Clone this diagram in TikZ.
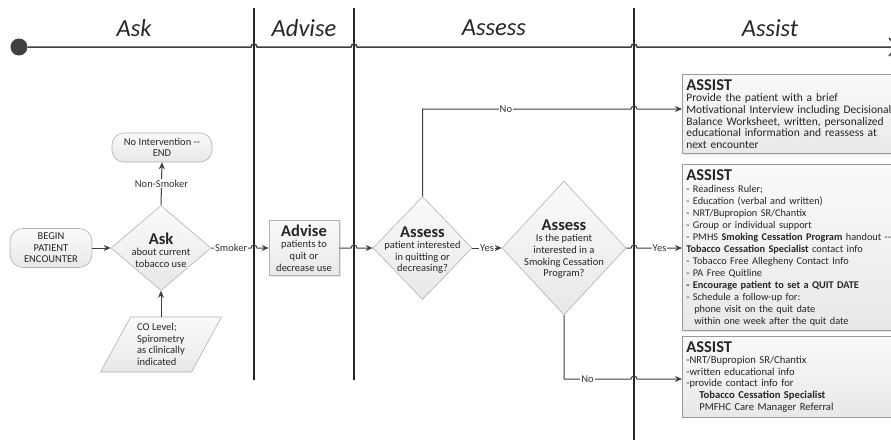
\documentclass[tikz,border=0pt]{standalone}
\usepackage{fontspec}
\setmainfont{Carlito}
\usetikzlibrary{shapes.geometric,arrows.meta,shadows}

\newcommand\hdfont{\fontsize{16.5}{18}\selectfont\bfseries}

\begin{document}
\begin{tikzpicture}[x=1pt,y=-1pt,
  lane/.style={line width=1.8pt, black!85},
  link/.style={line width=1pt, black!75},
  flow/.style={link, -{Stealth[length=7pt,width=6pt]}},
  lbl/.style={fill=white, inner sep=1pt, font=\fontsize{10.5}{12}\selectfont, text=black!80},
  txt/.style={align=center, inner sep=0pt, font=\fontsize{10.5}{11.6}\selectfont, text=black!85},
  shade/.style={draw=black!30, line width=0.6pt, top color=black!2, bottom color=black!9},
  decision/.style={shade, diamond, inner sep=0pt},
  terminal/.style={shade, rounded corners=13pt, txt},
  hdr/.style={font=\fontsize{24.5}{26}\selectfont\itshape, text=black!85},
  assistbox/.style={shade, draw=black!40, drop shadow={opacity=0.2, shadow xshift=1.5pt, shadow yshift=-1.5pt},
    anchor=north west, align=left, text width=215pt, inner xsep=4pt, inner ysep=5pt, text=black!85,
    font=\fontsize{10.3}{12}\selectfont}
]
\path[use as bounding box, clip] (0,0) rectangle (891,439);
\fill[white] (0,0) rectangle (891,439);

\coordinate (lane1) at (254,8);
\coordinate (lane2) at (354,8);
\coordinate (lane3) at (634,8);
\coordinate (noA) at (0,109);
\coordinate (noB) at (0,379);

\draw[lane] (lane1) -- (254,380);
\draw[lane] (lane2) -- (354,380);
\draw[lane] (lane3) -- (634,445);

\node[hdr] (askhdr) at (134,28) {Ask};
\node[hdr] (advisehdr) at (304,28) {Advise};
\node[hdr] (assesshdr) at (494,28) {Assess};
\node[hdr] (assisthdr) at (770,28) {Assist};

\node[circle, fill=black!75, minimum size=17pt, inner sep=0pt] (start) at (19,47) {};
\coordinate (finish) at (897,47);
\draw[link, line width=1.5pt, -{Straight Barb[length=7pt,width=18pt]}] (start)
  -- ([xshift=-3pt]start -| lane1) arc[start angle=180, end angle=0, radius=3pt]
  -- ([xshift=-3pt]start -| lane2) arc[start angle=180, end angle=0, radius=3pt]
  -- ([xshift=-3pt]start -| lane3) arc[start angle=180, end angle=0, radius=3pt]
  -- (finish);

\node[terminal, minimum width=82pt, minimum height=39pt] (begin) at (51,248) {BEGIN\\PATIENT\\ENCOUNTER};
\node[terminal, minimum width=100pt, minimum height=29pt, rounded corners=12pt] (noint) at (162,147.5) {No Intervention -{}-\\END};

\node[decision, minimum width=100pt, minimum height=85pt] (ask) at (161,248) {};
\node[txt] (asktext) at (161,250) {{\hdfont Ask}\\about current\\tobacco use};

\node[shade, txt, align=left, trapezium, trapezium left angle=61, trapezium right angle=119, trapezium stretches=true,
  minimum width=122pt, minimum height=55pt] (co) at (161,344.5) {CO Level;\\Spirometry\\as clinically\\indicated};

\node[shade, drop shadow={opacity=0.2, shadow xshift=1.5pt, shadow yshift=-1.5pt},
  minimum width=70pt, minimum height=55pt, txt] (advise) at (304,248) {{\hdfont Advise}\\patients to\\quit or\\decrease use};

\node[decision, minimum width=99pt, minimum height=103pt] (assess) at (422.5,248) {};
\node[txt] (assesstext) at (422.5,250) {{\hdfont Assess}\\patient interested\\in quitting or\\decreasing?};

\node[decision, minimum width=124pt, minimum height=134pt] (program) at (564,248) {};
\node[txt] (programtext) at (564,249) {{\hdfont Assess}\\Is the patient\\interested in a\\Smoking Cessation\\Program?};

\node[assistbox, font=\fontsize{11.5}{11.7}\selectfont] (info) at (682,74) {{\hdfont ASSIST}\\
Provide the patient with a brief\\
Motivational Interview including Decisional\\
Balance Worksheet, written, personalized\\
educational information and reassess at\\
next encounter};

\node[assistbox] (plan) at (682,164) {{\hdfont ASSIST}\\
- Readiness Ruler;\\
- Education (verbal and written)\\
- NRT/Bupropion SR/Chantix\\
- Group or individual support\\
- PMHS \textbf{Smoking Cessation Program} handout -{}-\\
\textbf{Tobacco Cessation Specialist} contact info\\
- Tobacco Free Allegheny Contact Info\\
- PA Free Quitline\\
\textbf{- Encourage patient to set a QUIT DATE}\\
- Schedule a follow-up for:\\
\hspace*{8pt}phone visit on the quit date\\
\hspace*{8pt}within one week after the quit date};

\node[assistbox, font=\fontsize{10.6}{11.6}\selectfont] (refer) at (682,336) {{\hdfont ASSIST}\\
-NRT/Bupropion SR/Chantix\\
-written educational info\\
-provide contact info for\\
\hspace*{13pt}\textbf{Tobacco Cessation Specialist}\\
\hspace*{13pt}PMFHC Care Manager Referral};

\draw[flow] (begin.east) -- (ask.west);
\draw[flow] (ask.north) -- node[lbl] {Non-Smoker} (noint.south);
\draw[flow] (co.north -| ask.south) -- (ask.south);
\draw[flow] (ask.east) -- node[lbl] {Smoker} ([xshift=-3pt]ask.east -| lane1)
  arc[start angle=180, end angle=0, radius=3pt] -- (advise.west);
\draw[flow] (advise.east) -- ([xshift=-3pt]advise.east -| lane2)
  arc[start angle=180, end angle=0, radius=3pt] -- (assess.west);
\draw[flow] (assess.east) -- node[lbl] {Yes} (program.west);
\draw[flow] (program.east) -- ([xshift=-3pt]program.east -| lane3)
  arc[start angle=180, end angle=0, radius=3pt] -- node[lbl] {Yes} (plan.west |- program.east);
\draw[flow] (assess.north) -- (assess.north |- noA) -- node[lbl, pos=0.4] {No} ([xshift=-3pt]noA -| lane3)
  arc[start angle=180, end angle=0, radius=3pt] -- (info.west |- noA);
\draw[flow] (program.south) -- (program.south |- noB) -- node[lbl, pos=0.35] {No} ([xshift=-3pt]noB -| lane3)
  arc[start angle=180, end angle=0, radius=3pt] -- (refer.west |- noB);
\end{tikzpicture}
\end{document}
